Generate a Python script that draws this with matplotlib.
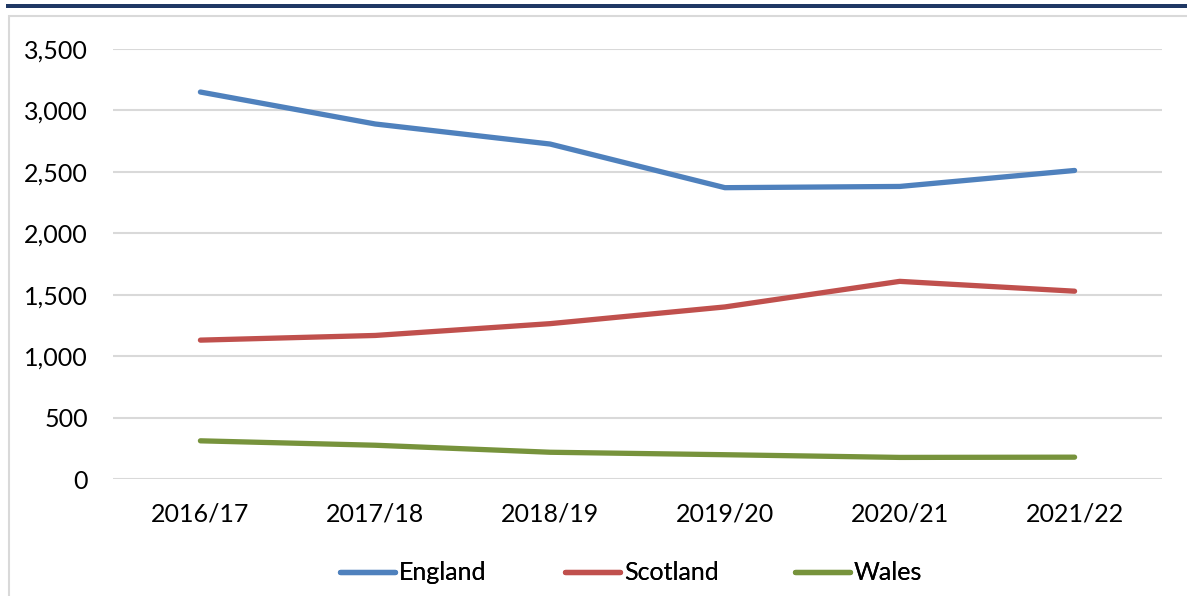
import matplotlib.pyplot as plt
from matplotlib.patches import Rectangle
from matplotlib.lines import Line2D

# --- Data ---
years = ["2016/17", "2017/18", "2018/19", "2019/20", "2020/21", "2021/22"]
england = [3150, 2890, 2727, 2372, 2382, 2512]
scotland = [1132, 1170, 1266, 1402, 1610, 1530]
wales = [313, 277, 220, 200, 178, 180]

series = [
    ("England", england, "#4F81BD"),
    ("Scotland", scotland, "#C0504D"),
    ("Wales", wales, "#77933C"),
]

plt.rcParams["font.family"] = ["Lato", "DejaVu Sans"]

W, H = 1187, 596
FS = 18
fig = plt.figure(figsize=(W / 100, H / 100), dpi=100)

# navy rule at the top and light grey chart frame
fig.patches.append(Rectangle((6 / W, 1 - 7.5 / H), 1, 3.5 / H, transform=fig.transFigure,
                             facecolor="#1F3864", edgecolor="none"))
fig.patches.append(Rectangle((9.5 / W, -0.1), 1.2, 1.1 - 15.5 / H, transform=fig.transFigure,
                             facecolor="none", edgecolor="#D9D9D9", linewidth=1.5))

ax = fig.add_axes([113 / W, 1 - 479.3 / H, (1162 - 113) / W, (479.3 - 49) / H])
x = list(range(len(years)))
for name, vals, col in series:
    ax.plot(x, vals, color=col, linewidth=3.8, solid_capstyle="round",
            solid_joinstyle="round", label=name)

ax.set_xlim(-0.5, len(years) - 0.5)
ax.set_ylim(0, 3500)
ax.set_yticks(range(0, 3501, 500))
ax.set_yticklabels([f"{v:,}" for v in range(0, 3501, 500)])
ax.set_xticks(x)
ax.set_xticklabels(years)
ax.tick_params(axis="both", length=0, labelsize=FS, colors="black")
ax.tick_params(axis="y", pad=18)
ax.tick_params(axis="x", pad=17)
ax.grid(axis="y", color="#D9D9D9", linewidth=1.5)
ax.set_axisbelow(True)
for s in ax.spines.values():
    s.set_visible(False)

# legend entries, spaced like the original
leg_x = [340, 565, 795]
for (name, vals, col), lx in zip(series, leg_x):
    h = Line2D([], [], color=col, linewidth=3.8, solid_capstyle="round")
    leg = fig.legend([h], [name], loc="center left", bbox_to_anchor=(lx / W, 1 - 573 / H),
                     frameon=False, fontsize=FS, handlelength=2.2, handletextpad=0.15,
                     borderpad=0, borderaxespad=0)
    fig.add_artist(leg)

fig.savefig("out.png", dpi=100)
